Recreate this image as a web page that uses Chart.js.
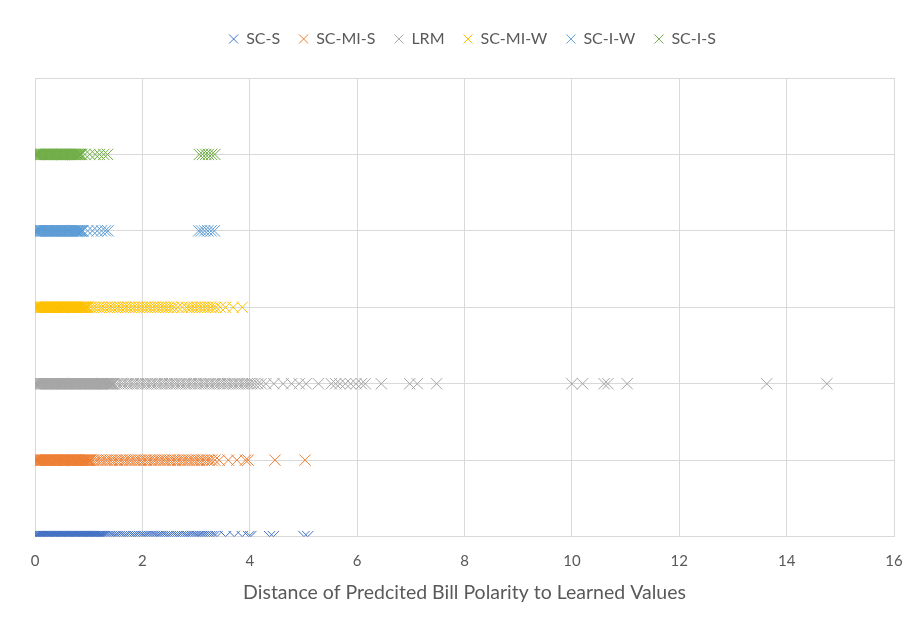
<!DOCTYPE html>
<html>
<head>
<meta charset="utf-8">
<script src="https://cdn.jsdelivr.net/npm/chart.js@4.4.1/dist/chart.umd.min.js"></script>
<style>
  html, body { margin: 0; padding: 0; background: #ffffff; overflow: hidden; }
  #chart { display: block; }
</style>
</head>
<body>
<canvas id="chart" width="915" height="625"></canvas>
<script>
// Model names, one row per model (row index = y level)
const seriesNames = ['SC-S', 'SC-MI-S', 'LRM', 'SC-MI-W', 'SC-I-W', 'SC-I-S'];
const seriesLevels = [0, 1, 2, 3, 4, 5];

// Distance of predicted bill polarity to learned values, per model
const distSCS = [0, 0.01, 0.03, 0.04, 0.06, 0.07, 0.08, 0.1, 0.11, 0.13, 0.14, 0.16, 0.17, 0.18, 0.2, 0.21,
  0.23, 0.24, 0.26, 0.27, 0.29, 0.3, 0.31, 0.33, 0.34, 0.36, 0.37, 0.39, 0.4, 0.42, 0.43, 0.44, 0.46, 0.47,
  0.49, 0.5, 0.52, 0.53, 0.55, 0.56, 0.57, 0.59, 0.6, 0.62, 0.63, 0.65, 0.66, 0.68, 0.69, 0.7, 0.72, 0.73,
  0.75, 0.76, 0.78, 0.79, 0.81, 0.82, 0.83, 0.85, 0.86, 0.88, 0.89, 0.91, 0.92, 0.94, 0.95, 0.96, 0.98,
  0.99, 1.01, 1.02, 1.04, 1.05, 1.07, 1.08, 1.09, 1.11, 1.12, 1.14, 1.15, 1.17, 1.18, 1.2, 1.21, 1.23,
  1.24, 1.26, 1.27, 1.3, 1.34, 1.38, 1.42, 1.46, 1.49, 1.53, 1.57, 1.61, 1.65, 1.68, 1.72, 1.76, 1.8,
  1.84, 1.87, 1.91, 1.95, 1.99, 2.03, 2.06, 2.1, 2.14, 2.18, 2.22, 2.26, 2.29, 2.33, 2.37, 2.41, 2.45,
  2.48, 2.52, 2.56, 2.6, 2.64, 2.67, 2.71, 2.75, 2.79, 2.83, 2.86, 2.9, 2.94, 2.98, 3.02, 3.05, 3.09,
  3.13, 3.17, 3.21, 3.25, 3.29, 3.33, 3.39, 3.55, 3.71, 3.86, 3.98, 4.02, 4.37, 4.44, 5.01, 5.08];
const distSCMIS = [0, 0.01, 0.03, 0.04, 0.05, 0.07, 0.08, 0.1, 0.11, 0.13, 0.14, 0.15, 0.17, 0.18, 0.2, 0.21,
  0.23, 0.24, 0.26, 0.27, 0.28, 0.3, 0.31, 0.33, 0.34, 0.36, 0.37, 0.38, 0.4, 0.41, 0.43, 0.44, 0.46, 0.47,
  0.49, 0.5, 0.51, 0.53, 0.54, 0.56, 0.57, 0.59, 0.6, 0.62, 0.63, 0.64, 0.66, 0.67, 0.69, 0.7, 0.72, 0.73,
  0.75, 0.76, 0.77, 0.79, 0.8, 0.82, 0.83, 0.85, 0.86, 0.88, 0.89, 0.9, 0.92, 0.93, 0.95, 0.96, 0.98,
  0.99, 1.01, 1.02, 1.04, 1.08, 1.13, 1.17, 1.22, 1.26, 1.31, 1.35, 1.4, 1.44, 1.49, 1.53, 1.58, 1.62,
  1.67, 1.71, 1.76, 1.8, 1.85, 1.89, 1.94, 1.98, 2.03, 2.07, 2.12, 2.16, 2.21, 2.25, 2.3, 2.34, 2.39,
  2.43, 2.48, 2.52, 2.57, 2.61, 2.66, 2.7, 2.75, 2.79, 2.84, 2.88, 2.93, 2.97, 3.02, 3.06, 3.11, 3.15,
  3.2, 3.24, 3.29, 3.35, 3.43, 3.6, 3.76, 3.92, 3.97, 4.47, 5.03];
const distLRM = [0, 0.01, 0.03, 0.04, 0.06, 0.07, 0.08, 0.1, 0.11, 0.13, 0.14, 0.16, 0.17, 0.18, 0.2, 0.21,
  0.23, 0.24, 0.26, 0.27, 0.29, 0.3, 0.31, 0.33, 0.34, 0.36, 0.37, 0.39, 0.4, 0.42, 0.43, 0.44, 0.46, 0.47,
  0.49, 0.5, 0.52, 0.53, 0.55, 0.56, 0.57, 0.59, 0.6, 0.62, 0.63, 0.65, 0.66, 0.68, 0.69, 0.7, 0.72, 0.73,
  0.75, 0.76, 0.78, 0.79, 0.81, 0.82, 0.83, 0.85, 0.86, 0.88, 0.89, 0.91, 0.92, 0.94, 0.95, 0.96, 0.98,
  0.99, 1.01, 1.02, 1.04, 1.05, 1.07, 1.08, 1.09, 1.11, 1.12, 1.14, 1.15, 1.17, 1.18, 1.2, 1.21, 1.23,
  1.24, 1.25, 1.27, 1.28, 1.3, 1.31, 1.33, 1.34, 1.35, 1.37, 1.38, 1.4, 1.41, 1.43, 1.44, 1.46, 1.47,
  1.52, 1.56, 1.61, 1.65, 1.7, 1.74, 1.79, 1.83, 1.88, 1.92, 1.97, 2.01, 2.06, 2.1, 2.15, 2.19, 2.24,
  2.28, 2.33, 2.37, 2.42, 2.46, 2.51, 2.55, 2.6, 2.64, 2.69, 2.73, 2.78, 2.82, 2.87, 2.91, 2.96, 3.0,
  3.05, 3.09, 3.14, 3.18, 3.23, 3.27, 3.32, 3.36, 3.41, 3.45, 3.5, 3.54, 3.59, 3.63, 3.68, 3.72, 3.77,
  3.81, 3.86, 3.9, 3.95, 3.99, 4.04, 4.09, 4.15, 4.21, 4.3, 4.45, 4.62, 4.78, 4.92, 5.05, 5.28, 5.52,
  5.6, 5.68, 5.78, 5.88, 5.98, 6.08, 6.15, 6.45, 6.98, 7.12, 7.48, 10.0, 10.2, 10.6, 10.67, 11.03,
  13.63, 14.75];
const distSCMIW = [0, 0.01, 0.03, 0.04, 0.05, 0.07, 0.08, 0.1, 0.11, 0.13, 0.14, 0.15, 0.17, 0.18, 0.2, 0.21,
  0.23, 0.24, 0.26, 0.27, 0.28, 0.3, 0.31, 0.33, 0.34, 0.36, 0.37, 0.38, 0.4, 0.41, 0.43, 0.44, 0.46, 0.47,
  0.49, 0.5, 0.51, 0.53, 0.54, 0.56, 0.57, 0.59, 0.6, 0.62, 0.63, 0.64, 0.66, 0.67, 0.69, 0.7, 0.72, 0.73,
  0.75, 0.76, 0.77, 0.79, 0.8, 0.82, 0.83, 0.85, 0.86, 0.88, 0.89, 0.9, 0.92, 0.93, 0.95, 0.96, 0.98,
  0.99, 1.04, 1.09, 1.14, 1.19, 1.24, 1.29, 1.34, 1.39, 1.44, 1.49, 1.54, 1.59, 1.64, 1.69, 1.74, 1.79,
  1.84, 1.89, 1.94, 1.99, 2.04, 2.09, 2.14, 2.19, 2.24, 2.29, 2.34, 2.39, 2.44, 2.49, 2.54, 2.59, 2.66,
  2.74, 2.82, 2.87, 2.92, 2.97, 3.02, 3.07, 3.12, 3.17, 3.22, 3.27, 3.32, 3.37, 3.45, 3.55, 3.69, 3.86];
const distSCIW = [0, 0.01, 0.03, 0.04, 0.06, 0.07, 0.08, 0.1, 0.11, 0.13, 0.14, 0.16, 0.17, 0.18, 0.2, 0.21,
  0.23, 0.24, 0.26, 0.27, 0.29, 0.3, 0.31, 0.33, 0.34, 0.36, 0.37, 0.39, 0.4, 0.42, 0.43, 0.44, 0.46, 0.47,
  0.49, 0.5, 0.52, 0.53, 0.55, 0.56, 0.57, 0.59, 0.6, 0.62, 0.63, 0.65, 0.66, 0.68, 0.69, 0.7, 0.72, 0.73,
  0.75, 0.76, 0.78, 0.79, 0.81, 0.82, 0.83, 0.85, 0.86, 0.88, 0.89, 0.98, 1.07, 1.16, 1.24, 1.31, 1.36,
  3.05, 3.1, 3.16, 3.22, 3.28, 3.34];
const distSCIS = [0, 0.01, 0.03, 0.04, 0.05, 0.07, 0.08, 0.1, 0.11, 0.13, 0.14, 0.15, 0.17, 0.18, 0.2, 0.21,
  0.23, 0.24, 0.26, 0.27, 0.28, 0.3, 0.31, 0.33, 0.34, 0.36, 0.37, 0.39, 0.4, 0.41, 0.43, 0.44, 0.46, 0.47,
  0.49, 0.5, 0.52, 0.53, 0.54, 0.56, 0.57, 0.59, 0.6, 0.62, 0.63, 0.65, 0.66, 0.67, 0.69, 0.7, 0.72, 0.73,
  0.75, 0.76, 0.78, 0.79, 0.8, 0.82, 0.83, 0.85, 0.87, 0.93, 1.02, 1.12, 1.2, 1.28, 1.35,
  3.06, 3.12, 3.18, 3.23, 3.29, 3.35];

// X axis ticks
const xTicks = [0, 2, 4, 6, 8, 10, 12, 14, 16];

const seriesDistances = [distSCS, distSCMIS, distLRM, distSCMIW, distSCIW, distSCIS];
const palette = ['#4472C4', '#ED7D31', '#A5A5A5', '#FFC000', '#5B9BD5', '#70AD47'];

const datasets = seriesNames.map((name, i) => ({
  label: name,
  data: seriesDistances[i].map(d => ({ x: d, y: seriesLevels[i] })),
  borderColor: palette[i],
  backgroundColor: palette[i],
  pointStyle: 'crossRot',
  pointRadius: 8,
  pointHoverRadius: 8,
  pointBorderWidth: 1,
  showLine: false
}));

const textColor = '#595959';
const gridColor = '#d9d9d9';
const fontFamily = 'Lato, "Open Sans", sans-serif';

// Extra space under the legend row, and a small shift of the legend to the right
const legendPlacement = {
  id: 'legendPlacement',
  beforeInit(chart) {
    const origFit = chart.legend.fit;
    chart.legend.fit = function () {
      origFit.call(this);
      this.height += 21;
    };
  },
  afterLayout(chart) {
    chart.legend.left += 8;
    chart.legend.right += 8;
  }
};

new Chart(document.getElementById('chart'), {
  type: 'scatter',
  data: { datasets },
  plugins: [legendPlacement],
  options: {
    responsive: false,
    animation: false,
    layout: { padding: { top: 12, left: 35, right: 21, bottom: 21 } },
    plugins: {
      tooltip: { enabled: false },
      legend: {
        position: 'top',
        labels: {
          usePointStyle: true,
          pointStyle: 'crossRot',
          boxWidth: 9,
          boxHeight: 9,
          padding: 19,
          color: textColor,
          font: { family: fontFamily, size: 16 }
        }
      }
    },
    scales: {
      x: {
        type: 'linear',
        min: 0,
        max: 16,
        afterBuildTicks: axis => { axis.ticks = xTicks.map(v => ({ value: v })); },
        afterFit: axis => { axis.paddingLeft = 5; axis.paddingRight = 9; },
        grid: { color: gridColor, drawTicks: false, lineWidth: 1 },
        border: { display: false },
        ticks: { color: textColor, padding: 16, font: { family: fontFamily, size: 15 } },
        title: {
          display: true,
          text: 'Distance of Predcited Bill Polarity to Learned Values',
          color: textColor,
          padding: { top: -6, bottom: 0 },
          font: { family: fontFamily, size: 19.5 }
        }
      },
      y: {
        type: 'linear',
        min: 0,
        max: 6,
        ticks: { display: false, stepSize: 1 },
        grid: { color: gridColor, drawTicks: false, lineWidth: 1 },
        border: { display: false }
      }
    }
  }
});
</script>
</body>
</html>
